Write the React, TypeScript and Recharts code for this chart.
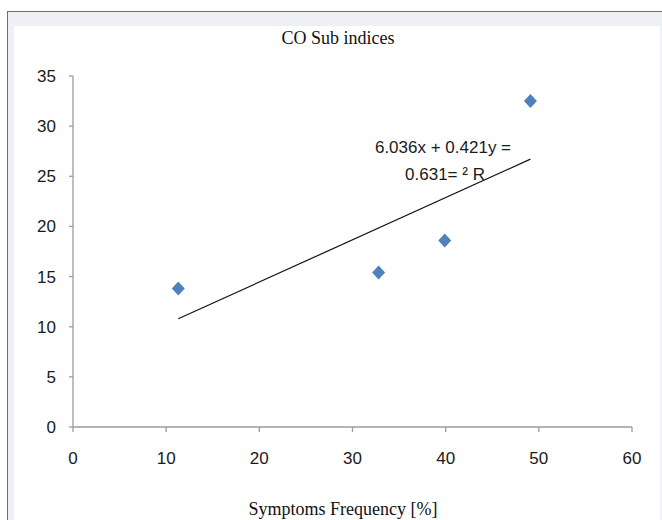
import { ScatterChart, Scatter, XAxis, YAxis } from "recharts";

// symptoms frequency [%] vs CO sub index
const frequency = [11.3, 32.8, 39.9, 49.1];
const subIndex = [13.8, 15.4, 18.6, 32.5];

const xTicks = [0, 10, 20, 30, 40, 50, 60];
const yTicks = [0, 5, 10, 15, 20, 25, 30, 35];

// linear trendline as printed on the chart: y = 0.421x + 6.036
const slope = 0.421;
const intercept = 6.036;

const points = frequency.map((x, i) => ({ x, y: subIndex[i] }));
const xMin = Math.min(...frequency);
const xMax = Math.max(...frequency);
const trend = [xMin, xMax].map((x) => ({ x, y: slope * x + intercept }));

const W = 662;
const H = 520;
const tickStyle = { fontSize: 17, fill: "#1a1a1a", fontFamily: "'Liberation Sans', Arial, sans-serif" };

function Diamond(props: { cx?: number; cy?: number }) {
  const { cx = 0, cy = 0 } = props;
  return (
    <path
      d={`M${cx},${cy - 7} L${cx + 6.5},${cy} L${cx},${cy + 7} L${cx - 6.5},${cy} Z`}
      fill="#4f81bd"
    />
  );
}

export default function App() {
  return (
    <div style={{ position: "absolute", left: 0, top: 0, width: W, height: H, overflow: "hidden", background: "#fff" }}>
      {/* outer frame */}
      <div
        style={{
          position: "absolute",
          left: 7,
          top: 11,
          width: W - 7,
          height: H - 11,
          borderTop: "1.5px solid #6f6f6f",
          borderLeft: "1.5px solid #6f6f6f",
          background: "#eff0f6",
          boxSizing: "border-box",
        }}
      />
      <div style={{ position: "absolute", left: 14, top: 26, width: 646, height: H - 26, background: "#fff" }} />

      <div style={{ position: "absolute", left: 0, top: 0 }}>
        <ScatterChart width={W} height={H} margin={{ top: 76, right: 30, bottom: 0, left: 0 }}>
          <XAxis
            type="number"
            dataKey="x"
            domain={[0, 60]}
            ticks={xTicks}
            interval={0}
            height={93}
            tickSize={5}
            tickMargin={20}
            tick={tickStyle}
            axisLine={{ stroke: "#9c9c9c", strokeWidth: 1.3 }}
            tickLine={{ stroke: "#9c9c9c", strokeWidth: 1.3 }}
          />
          <YAxis
            type="number"
            dataKey="y"
            domain={[0, 35]}
            ticks={yTicks}
            interval={0}
            width={73}
            tickSize={4}
            tickMargin={13}
            tick={tickStyle}
            axisLine={{ stroke: "#9c9c9c", strokeWidth: 1.3 }}
            tickLine={{ stroke: "#9c9c9c", strokeWidth: 1.3 }}
          />
          <Scatter data={points} shape={<Diamond />} isAnimationActive={false} />
          <Scatter
            data={trend}
            line={{ stroke: "#111", strokeWidth: 1.2 }}
            shape={() => <g />}
            legendType="none"
            isAnimationActive={false}
          />
        </ScatterChart>
      </div>

      <svg width={W} height={H} style={{ position: "absolute", left: 0, top: 0, pointerEvents: "none" }}>
        <text x={338} y={44} textAnchor="middle" fontFamily="'Liberation Serif', 'Times New Roman', serif" fontSize={18} fill="#111">
          CO Sub indices
        </text>
        <g fontFamily="'Liberation Sans', Arial, sans-serif" fontSize={17} fill="#1a1a1a" textAnchor="middle">
          <text x={443} y={153}>6.036x + 0.421y =</text>
          <text x={445} y={180}>0.631= ² R</text>
        </g>
        <text x={343} y={515} textAnchor="middle" fontFamily="'Liberation Serif', 'Times New Roman', serif" fontSize={18} fill="#111">
          Symptoms Frequency [%]
        </text>
      </svg>
    </div>
  );
}
